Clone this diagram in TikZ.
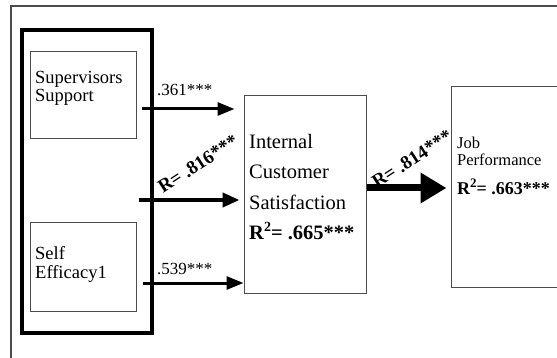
\documentclass[tikz,border=0pt]{standalone}
\usepackage{fontspec}
\setmainfont{Liberation Serif}
\usetikzlibrary{arrows.meta}

\newcommand{\sqr}[1]{R\raisebox{0.42em}{\fontsize{#1}{#1}\selectfont 2}}

\begin{document}
\begin{tikzpicture}[x=1pt,y=-1pt,
  frame/.style={draw=black!70, line width=1.3pt},
  grp/.style={draw=black, line width=3.5pt, minimum width=130pt, minimum height=303pt, inner sep=0pt},
  var/.style={draw=black!70, line width=1pt, inner sep=0pt},
  lbl/.style={inner sep=0pt, align=left, anchor=base west},
  coef/.style={inner sep=0pt, anchor=base west, font=\fontsize{17}{17}\selectfont},
  rlab/.style={inner sep=0pt, rotate=33, font=\fontsize{19}{19}\selectfont\bfseries},
  link/.style={line width=3pt, -{Triangle[length=17pt,width=13pt]}},
  mainlink/.style={line width=4pt, -{Triangle[length=17pt,width=14pt]}},
  biglink/.style={line width=7pt, -{Triangle[length=26pt,width=29pt]}}]

\useasboundingbox (0,0) rectangle (557,358);
\clip (0,0) rectangle (557,358);
\fill[white] (0,0) rectangle (557,358);

% outer frame
\draw[frame] (11,6) rectangle (600,400);

% predictor group
\node[grp] (group) at (87,181.5) {};
\node[var, minimum width=106pt, minimum height=87pt] (sup) at (83,95.5) {};
\node[var, minimum width=106pt, minimum height=88pt] (self) at (83,267) {};
% multi-line labels are anchored at the baseline of their last line
\node[lbl, font=\fontsize{18.5}{18}\selectfont] (suptext) at (35,102) {Supervisors\\Support};
\node[lbl, font=\fontsize{18.5}{19}\selectfont] (selftext) at (35,278) {Self\\Efficacy1};

% mediator and outcome
\node[var, minimum width=122pt, minimum height=197pt] (ics) at (305,194.5) {};
\node[var, minimum width=149pt, minimum height=200pt] (jp) at (525.5,187) {};
\node[lbl, font=\fontsize{20.5}{30.5}\selectfont] (icstext) at (249,240)
  {Internal\\Customer\\Satisfaction\\\textbf{\sqr{14}= .665***}};
\node[lbl, font=\fontsize{16.5}{17}\selectfont] (jptext) at (457,166) {Job\\Performance};
\node[lbl, font=\fontsize{18}{18}\selectfont\bfseries] (jpr) at (457,195) {\sqr{13}= .663***};

% paths
\coordinate (s1) at (142,109);
\coordinate (s2) at (139,200);
\coordinate (s3) at (143,283);
\draw[link, shorten >=9pt] (s1) -- (s1 -| ics.west);
\draw[mainlink, shorten >=4pt] (s2) -- (s2 -| ics.west);
\draw[link] (s3) -- (s3 -| ics.west);
\coordinate (m1) at (ics.east |- 0,188);
\draw[biglink, shorten >=4pt] (m1) -- (m1 -| jp.west);

% coefficients
\node[coef] (c1) at (157,96) {.361***};
\node[coef] (c3) at (157,274) {.539***};
\node[rlab] (r1) at (198,164) {R= .816***};
\node[rlab] (r2) at (412,159) {R= .814***};
\end{tikzpicture}
\end{document}
